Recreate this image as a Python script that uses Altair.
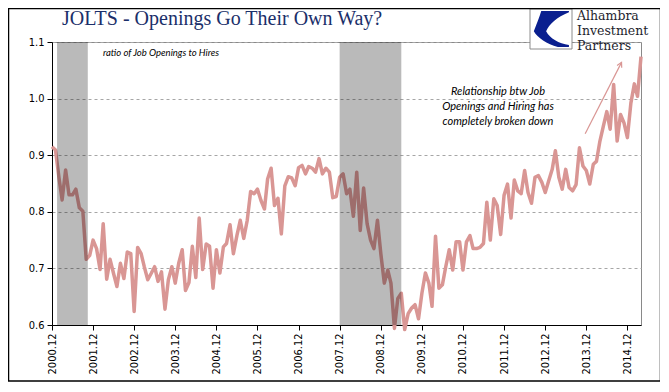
import altair as alt
import pandas as pd

# ---------------- data ----------------
ratio = [
    0.915, 0.909, 0.860, 0.821, 0.874, 0.830, 0.830, 0.840, 0.807, 0.801,
    0.716, 0.723, 0.750, 0.735, 0.698, 0.779, 0.681, 0.716, 0.691, 0.668,
    0.709, 0.682, 0.729, 0.726, 0.624, 0.737, 0.726, 0.703, 0.680, 0.691,
    0.703, 0.677, 0.694, 0.628, 0.680, 0.703, 0.674, 0.709, 0.733, 0.661,
    0.675, 0.739, 0.684, 0.789, 0.698, 0.743, 0.739, 0.665, 0.733, 0.692,
    0.738, 0.744, 0.777, 0.726, 0.758, 0.785, 0.753, 0.785, 0.836, 0.832,
    0.840, 0.820, 0.805, 0.858, 0.877, 0.811, 0.824, 0.761, 0.846, 0.862,
    0.860, 0.846, 0.878, 0.882, 0.867, 0.880, 0.877, 0.870, 0.894, 0.867,
    0.877, 0.870, 0.825, 0.827, 0.861, 0.867, 0.832, 0.840, 0.792, 0.870,
    0.767, 0.842, 0.779, 0.750, 0.735, 0.785, 0.726, 0.674, 0.697, 0.674,
    0.594, 0.647, 0.656, 0.592, 0.620, 0.630, 0.636, 0.611, 0.656, 0.692,
    0.674, 0.633, 0.757, 0.665, 0.671, 0.703, 0.733, 0.697, 0.747, 0.747,
    0.697, 0.747, 0.758, 0.735, 0.735, 0.737, 0.744, 0.817, 0.750, 0.823,
    0.811, 0.760, 0.829, 0.849, 0.789, 0.856, 0.837, 0.832, 0.873, 0.834,
    0.815, 0.861, 0.864, 0.852, 0.834, 0.855, 0.875, 0.908, 0.861, 0.840,
    0.875, 0.843, 0.837, 0.848, 0.913, 0.881, 0.873, 0.849, 0.884, 0.889,
    0.925, 0.951, 0.977, 0.946, 1.025, 0.925, 0.972, 0.957, 0.931, 0.992,
    1.026, 1.004, 1.074,
]
first_month = "2000-12-01"
dates = pd.date_range(first_month, periods=len(ratio), freq="MS").strftime("%Y-%m-%dT00:00:00")

rec_start = ["2001-01-15T00:00:00", "2007-12-01T00:00:00"]
rec_end = ["2001-10-15T00:00:00", "2009-06-01T00:00:00"]

y_ticks = [0.6, 0.7, 0.8, 0.9, 1.0, 1.1]
tick_years = list(range(2000, 2015))

title_text = "JOLTS - Openings Go Their Own Way?"
subtitle_text = "ratio of Job Openings to Hires"
note_lines = ["Relationship btw Job", "Openings and Hiring has", "completely broken down"]
logo_lines = ["Alhambra", "Investment", "Partners"]

arrow_start = ("2013-11-21T00:00:00", 0.938)
arrow_end = ("2014-10-10T00:00:00", 1.064)

# ---------------- layout ----------------
W, H = 589, 283
LINE_COLOR = "#d99694"

df = pd.DataFrame({"date": dates, "ratio": ratio})
rec = pd.DataFrame({"start": rec_start, "end": rec_end})

x_scale = alt.Scale(domain=[alt.DateTime(year=2000, month=12, date=1),
                            alt.DateTime(year=2015, month=4, date=1)])
y_scale = alt.Scale(domain=[0.6, 1.1], nice=False, zero=False)

narrow = "Liberation Sans Narrow, Arial Narrow, DejaVu Sans Condensed, sans-serif"

x_axis = alt.Axis(
    values=[alt.DateTime(year=yy, month=12, date=1) for yy in tick_years],
    format="%Y.%m", labelAngle=270, grid=False, title=None,
    labelFont=narrow, labelFontSize=11, labelColor="#000000",
    domainColor="#000000", tickColor="#000000", tickSize=5, labelPadding=3,
    labelOverlap=False,
)
y_axis = alt.Axis(
    values=y_ticks, format=".1f", title=None, grid=True,
    gridDash=[3, 3], gridColor="#a6a6a6", gridWidth=1,
    labelFont=narrow, labelFontSize=11, labelColor="#000000",
    domainColor="#000000", tickColor="#000000", tickSize=5, labelPadding=3,
)

line = alt.Chart(df).mark_line(color=LINE_COLOR, strokeWidth=3.5, strokeJoin="round").encode(
    x=alt.X("date:T", scale=x_scale, axis=x_axis),
    y=alt.Y("ratio:Q", scale=y_scale, axis=y_axis),
)

bands = alt.Chart(rec).mark_rect(color="#000000", opacity=0.27).encode(
    x=alt.X("start:T", scale=x_scale),
    x2="end:T",
    y=alt.value(0),
    y2=alt.value(H),
)

arrow_df = pd.DataFrame({"x1": [arrow_start[0]], "y1": [arrow_start[1]],
                         "x2": [arrow_end[0]], "y2": [arrow_end[1]]})
arrow = alt.Chart(arrow_df).mark_rule(color=LINE_COLOR, strokeWidth=1.2).encode(
    x=alt.X("x1:T", scale=x_scale), y=alt.Y("y1:Q", scale=y_scale),
    x2="x2:T", y2="y2:Q",
)
head = alt.Chart(arrow_df).mark_point(
    shape="M-0.55,1L0,0L0.55,1", filled=False, color=LINE_COLOR,
    strokeWidth=1.2, size=90, angle=27, opacity=1,
).encode(x=alt.X("x2:T", scale=x_scale), y=alt.Y("y2:Q", scale=y_scale))

one = pd.DataFrame({"k": [0]})


def text_layer(txt, x, y, **kw):
    return alt.Chart(pd.DataFrame({"t": [txt]})).mark_text(**kw).encode(
        text="t:N", x=alt.value(x), y=alt.value(y))


# frame around the whole figure
frame = alt.Chart(one).mark_rect(fill=None, stroke="#000000", strokeWidth=1.5).encode(
    x=alt.value(-43.5), x2=alt.value(608.5), y=alt.value(-33.5), y2=alt.value(339),
)

serif = "Liberation Serif, Times New Roman, serif"
italic_sans = "Lato, Open Sans, sans-serif"

title = text_layer(title_text, 10, -17, font=serif, fontSize=20, color="#1b2f6a",
                   align="left", baseline="alphabetic")
subtitle = text_layer(subtitle_text, 51, 11, font=italic_sans, fontSize=9.5,
                      fontStyle="italic", color="#000000", align="left", baseline="middle")
notes = [text_layer(s, 446, 50 + 15 * i, font=italic_sans, fontSize=11, fontStyle="italic",
                    color="#000000", align="center", baseline="middle")
         for i, s in enumerate(note_lines)]

logo_box = alt.Chart(one).mark_rect(fill="#ffffff", stroke="#8c8c8c", strokeWidth=1).encode(
    x=alt.value(478), x2=alt.value(520), y=alt.value(-33), y2=alt.value(7),
)
logo_mark = alt.Chart(one).mark_point(
    shape=("M-0.5,-0.92L0.92,-0.92L0.92,-0.86C0.3,-0.6 -0.1,-0.25 -0.25,0.12"
           "C-0.05,0.5 0.4,0.75 0.92,0.82L0.92,0.92L0.35,0.92"
           "C-0.2,0.78 -0.7,0.45 -0.88,0.12C-0.72,-0.3 -0.6,-0.6 -0.5,-0.92Z"),
    filled=True, color="#0a1f8f", size=1521, opacity=1,
).encode(x=alt.value(499), y=alt.value(-13))
logos = [text_layer(s, 525, -26.5 + 15 * i, font="DejaVu Serif, serif", fontSize=12.5,
                    color="#1e1e2e", align="left", baseline="middle")
         for i, s in enumerate(logo_lines)]

chart = alt.layer(
    line, bands, arrow, head, subtitle, *notes, title, logo_box, logo_mark, *logos, frame
).properties(
    width=W, height=H,
    autosize=alt.AutoSizeParams(type="none"),
    padding={"left": 44, "top": 34, "right": 19, "bottom": 59},
    background="#ffffff",
).configure_view(stroke="#898989", strokeWidth=1)

chart.save("out.html", embed_options={"renderer": "svg", "actions": False})
